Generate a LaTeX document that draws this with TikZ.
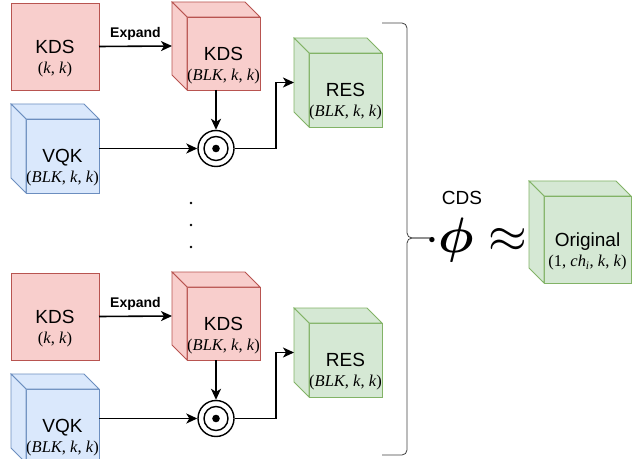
\documentclass[tikz,border=0pt]{standalone}
\usepackage{fontspec}
\setsansfont{Liberation Sans}
\newfontfamily\dimfont{Liberation Serif}
\usetikzlibrary{arrows.meta, calc}
\usepackage{xcolor}
\usepackage{amsmath}

\definecolor{redfill}{HTML}{F8CECC}
\definecolor{redline}{HTML}{B85450}
\definecolor{bluefill}{HTML}{DAE8FC}
\definecolor{blueline}{HTML}{6C8EBF}
\definecolor{greenfill}{HTML}{D5E8D4}
\definecolor{greenline}{HTML}{82B366}

\newcommand{\dimtxt}[1]{{\dimfont\fontsize{16.5}{17}\selectfont #1}}

\begin{document}
\begin{tikzpicture}[x=1pt, y=1pt, every node/.style={align=center},
  face/.style={draw, line width=0.8pt, minimum width=73, minimum height=73, inner sep=0, outer sep=0},
  redc/.style={fill=redfill, draw=redline},
  bluec/.style={fill=bluefill, draw=blueline},
  greenc/.style={fill=greenfill, draw=greenline},
  txt/.style={font=\sffamily\fontsize{19}{20}\selectfont, yshift=-12},
  odot/.style={circle, draw, line width=1.4pt, minimum size=36, inner sep=0,
    path picture={\draw[line width=1.4pt] (path picture bounding box.center) circle (12);
      \fill (path picture bounding box.center) circle (3.8);}},
  arr/.style={-{Stealth[length=11, width=10, inset=3]}, line width=1.6pt}]

  \useasboundingbox (0,0) rectangle (636,458);

  % two identical groups, one above the other
  \foreach \g/\dy in {A/0, B/-270} {
  \begin{scope}[yshift=\dy]
    \node (kds\g) [face, redc, minimum width=88, minimum height=87,
      label={[txt]center:{KDS\\\dimtxt{(\textit{k}, \textit{k})}}}] at (55,411.5) {};
    \node (kdsex\g) [face, redc,
      label={[txt]center:{KDS\\\dimtxt{(\textit{BLK}, \textit{k}, \textit{k})}}}] at (223.5,404.5) {};
    \node (vqk\g) [face, bluec, minimum height=74,
      label={[txt]center:{VQK\\\dimtxt{(\textit{BLK}, \textit{k}, \textit{k})}}}] at (62.5,302) {};
    \node (odot\g) [odot] at (216,309.5) {};
    \node (res\g) [face, greenc, minimum height=74,
      label={[txt]center:{RES\\\dimtxt{(\textit{BLK}, \textit{k}, \textit{k})}}}] at (345.5,368) {};

    % cube sides
    \foreach \n/\c in {kdsex\g/redc, vqk\g/bluec, res\g/greenc} {
      \filldraw[\c, line width=0.8pt] (\n.north west) -- ++(-15,15) -- ($(\n.north east)+(-15,15)$) -- (\n.north east) -- cycle;
      \filldraw[\c, line width=0.8pt] (\n.north west) -- ++(-15,15) -- ($(\n.south west)+(-15,15)$) -- (\n.south west) -- cycle;
    }

    \coordinate (kdsexin\g) at ($(kdsex\g.west)+(-15,7.5)$);
    \coordinate (kdsexout\g) at ($(kdsex\g.south)+(-7.5,0)$);
    \coordinate (vqkout\g) at ($(vqk\g.east)+(0,7.5)$);
    \coordinate (resin\g) at ($(res\g.west)+(-15,7.5)$);

    \draw[arr] (kds\g.east) -- node[above, yshift=2, font=\sffamily\bfseries\fontsize{14}{15}\selectfont] (expand\g) {Expand} (kdsexin\g);
    \draw[arr] (kdsexout\g) -- (odot\g.north);
    \draw[arr] (vqkout\g) -- (odot\g.west);
    \draw[arr] (odot\g.east) -- ++(41,0) |- (resin\g);
  \end{scope}
  }

  % dots between the groups
  \foreach \y in {255,233,211}
    \fill (191,\y) circle (1.3);

  % brace
  \draw[black!75, line width=0.8pt, rounded corners=5] (382,435) -| (407,220) -- (430,220);
  \draw[black!75, line width=0.8pt, rounded corners=5] (430,220) -- (407,220) |- (382,3);

  \node (cds) [font=\sffamily\fontsize{19}{20}\selectfont] at (462,260) {CDS};
  \node (approx) [font=\fontsize{20}{22}\selectfont, scale=2.4] at (476,218) {$\cdot\boldsymbol{\phi}\approx$};

  % original cube
  \node (orig) [face, greenc, minimum width=87, minimum height=87,
    label={[txt]center:{Original\\\dimtxt{(1, \textit{ch}\textsubscript{\textit{i}}, \textit{k}, \textit{k})}}}] at (587.5,218.5) {};
  \filldraw[greenc, line width=0.8pt] (orig.north west) -- ++(-15,15) -- ($(orig.north east)+(-15,15)$) -- (orig.north east) -- cycle;
  \filldraw[greenc, line width=0.8pt] (orig.north west) -- ++(-15,15) -- ($(orig.south west)+(-15,15)$) -- (orig.south west) -- cycle;

\end{tikzpicture}
\end{document}
